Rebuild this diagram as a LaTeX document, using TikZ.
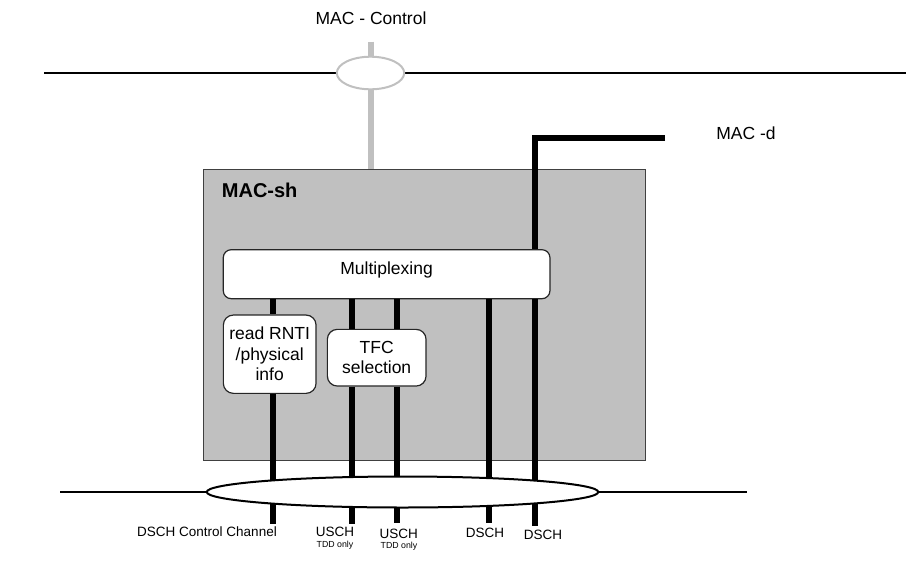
\documentclass[tikz,border=0pt]{standalone}
\usepackage{fontspec}
\setmainfont{Liberation Sans}
\usetikzlibrary{shapes.geometric}
\definecolor{macgray}{HTML}{C0C0C0}
\tikzset{
  bus/.style={line width=2pt},
  chan/.style={line width=6pt},
  ctrlchan/.style={line width=6pt, draw=macgray},
  block/.style={draw=black!85, line width=1.2pt, fill=white, rounded corners=8pt,
    inner sep=0pt, align=center, font=\fontsize{17.5}{20.5}\selectfont},
  title/.style={inner sep=0pt, font=\fontsize{17.5}{20.5}\selectfont},
  lbl/.style={inner sep=0pt, font=\fontsize{13.5}{15}\selectfont},
  note/.style={inner sep=0pt, font=\fontsize{8.8}{10}\selectfont},
}
\begin{document}
\begin{tikzpicture}[x=1pt, y=-1pt]
  \useasboundingbox (0,0) rectangle (916,568);
  % Outer texts
  \node[title] (ctltxt) at (371,18) {MAC - Control};
  \node[title] (dtxt) at (746,133) {MAC -d};

  % MAC-sh entity and its blocks
  \node[draw=black!75, line width=1pt, fill=macgray, minimum width=441.7pt,
    minimum height=290.5pt, inner sep=0pt] (macsh) at (424.2,314.8) {};
  \node[inner sep=0pt, anchor=west, font=\fontsize{20}{22}\selectfont\bfseries]
    (shtxt) at (221.7,190) {MAC-sh};
  \node[block, minimum width=326.7pt, minimum height=49pt, text depth=13pt]
    (mux) at (386.6,274.2) {Multiplexing};
  \node[block, minimum width=92.7pt, minimum height=78.3pt, rounded corners=10pt]
    (rnti) at (269.7,354.2) {read RNTI\\/physical\\info};
  \node[block, minimum width=98.7pt, minimum height=56.7pt, rounded corners=10pt]
    (tfc) at (376.7,357.7) {TFC\\selection};

  % Buses
  \coordinate (ctlL) at (44,72.7);
  \coordinate (ctlR) at (906,72.7);
  \coordinate (ctlC) at (370.5,73);
  \coordinate (ctlT) at (370.5,41.7);
  \coordinate (dschL) at (60,492);
  \coordinate (dschR) at (746.7,492);
  \draw[bus] (ctlL) -- (ctlR);
  \draw[ctrlchan] (ctlT) -- (ctlT |- macsh.north);
  \node[ellipse, draw=macgray, line width=2pt, fill=white, inner sep=0pt,
    minimum width=67.4pt, minimum height=32.6pt] (ctlring) at (ctlC) {};

  % Channel ends below the lower bus
  \coordinate (c1) at (272.7,524);
  \coordinate (c2) at (351.7,524);
  \coordinate (c3) at (396.7,523);
  \coordinate (c4) at (489,523.3);
  \coordinate (c5) at (535,526);
  \coordinate (dcorner) at (535,137.7);
  \coordinate (dend) at (665,137.7);

  % Channels
  \draw[chan] (dend) -- (dcorner) -- (dcorner |- mux.north);
  \draw[chan] (c5 |- mux.south) -- (c5);
  \draw[chan] (c1 |- mux.south) -- (c1 |- rnti.north);
  \draw[chan] (c1 |- rnti.south) -- (c1);
  \draw[chan] (c2 |- mux.south) -- (c2 |- tfc.north);
  \draw[chan] (c2 |- tfc.south) -- (c2);
  \draw[chan] (c3 |- mux.south) -- (c3 |- tfc.north);
  \draw[chan] (c3 |- tfc.south) -- (c3);
  \draw[chan] (c4 |- mux.south) -- (c4);

  % Lower bus with DSCH ring
  \draw[bus] (dschL) -- (dschR);
  \node[ellipse, draw=black, line width=2pt, fill=white, inner sep=0pt,
    minimum width=391.6pt, minimum height=31pt] (dschring) at (402.5,492) {};

  % Channel names
  \node[lbl, anchor=east] (ctrlch) at (277,531.7) {DSCH Control Channel};
  \node[lbl] (usch1) at (335,532.3) {USCH};
  \node[note] (tdd1) at (335,545) {TDD only};
  \node[lbl] (usch2) at (398.7,534) {USCH};
  \node[note] (tdd2) at (399,546.7) {TDD only};
  \node[lbl] (dsch1) at (485,533.3) {DSCH};
  \node[lbl] (dsch2) at (543,535) {DSCH};
\end{tikzpicture}
\end{document}
